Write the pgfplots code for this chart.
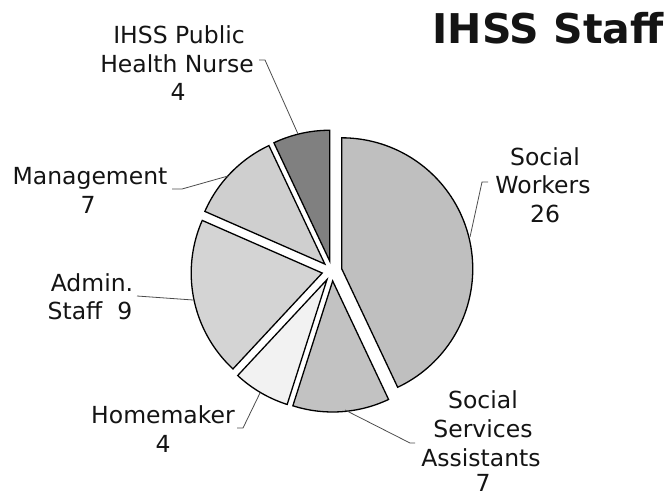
\documentclass[border=0pt]{standalone}
\usepackage{pgfplots}
\pgfplotsset{compat=1.18}
\usepackage{pgfplotstable}
\usepackage{fontspec}
\setmainfont{DejaVu Sans}

% slice sizes (clockwise from 12 o'clock)
\pgfplotstableread{
name value shade
SocialWorkers 24.5 25
SSA 6.8 24
Homemaker 4.0 5
Admin 11.2 17
Management 6.5 19
Nurse 4.0 50
}\pietable

\newcommand{\lab}[3]{\node[anchor=base, text=black!92, font=\fontsize{23.5}{28}\selectfont, inner sep=0pt] at (#1,#2) {#3};}

\begin{document}
\begin{tikzpicture}
\useasboundingbox (0,0) rectangle (671pt,496pt);
\begin{axis}[at={(0,0)}, anchor=south west, width=671pt, height=496pt, scale only axis,
  xmin=0, xmax=671, ymin=0, ymax=496, y dir=reverse, hide axis, clip=false]
\pgfplotstablegetrowsof{\pietable}
\pgfmathtruncatemacro\lastrow{\pgfplotsretval-1}
\def\total{0}
\pgfplotsforeachungrouped \i in {0,...,\lastrow}{%
  \pgfplotstablegetelem{\i}{value}\of\pietable
  \pgfmathsetmacro\total{\total+\pgfplotsretval}}
\def\cum{0}
\pgfplotsforeachungrouped \i in {0,...,\lastrow}{%
  \pgfplotstablegetelem{\i}{value}\of\pietable \let\val\pgfplotsretval
  \pgfplotstablegetelem{\i}{shade}\of\pietable \let\shadeval\pgfplotsretval
  \pgfmathsetmacro\aS{90-\cum/\total*360}%
  \pgfmathsetmacro\cum{\cum+\val}%
  \pgfmathsetmacro\aE{90-\cum/\total*360}%
  \pgfmathsetmacro\aM{(\aS+\aE)/2}%
  \pgfmathsetmacro\vx{332+10*cos(\aM)}%
  \pgfmathsetmacro\vy{271-10*sin(\aM)}%
  \edef\doplot{\noexpand\addplot[draw=black, line width=1.3pt, fill=black!\shadeval!white, mark=none,
     domain=\aE:\aS, samples=80, variable=\noexpand\t]
     ({\vx+131*cos(\noexpand\t)},{\vy-131*sin(\noexpand\t)}) -- (\vx,\vy) -- cycle;}%
  \doplot
}
% leader lines
\addplot[black!70, line width=0.8pt, mark=none] coordinates {(259,60) (265,60) (298,134)};
\addplot[black!70, line width=0.8pt, mark=none] coordinates {(172,189) (182,189) (228,176)};
\addplot[black!70, line width=0.8pt, mark=none] coordinates {(137,296) (193,300)};
\addplot[black!70, line width=0.8pt, mark=none] coordinates {(488,182) (482,182) (470,237)};
\addplot[black!70, line width=0.8pt, mark=none] coordinates {(237,428) (243,428) (260,393)};
\addplot[black!70, line width=0.8pt, mark=none] coordinates {(415,443) (410,443) (345,410)};

\node[anchor=base, text=black!92, font=\fontsize{41}{48}\selectfont\bfseries, inner sep=0pt] at (548,43) {IHSS Staff};

\lab{179}{43}{IHSS Public}
\lab{177}{72}{Health Nurse}
\lab{178}{100}{4}
\lab{90}{184}{Management}
\lab{88}{213}{7}
\lab{92}{291}{Admin.}
\lab{90}{319}{Staff~~9}
\lab{545}{165}{Social}
\lab{543}{193}{Workers}
\lab{545}{222}{26}
\lab{163}{423}{Homemaker}
\lab{163}{452}{4}
\lab{483}{408}{Social}
\lab{483}{437}{Services}
\lab{481}{466}{Assistants}
\lab{483}{491}{7}
\end{axis}
\end{tikzpicture}
\end{document}
